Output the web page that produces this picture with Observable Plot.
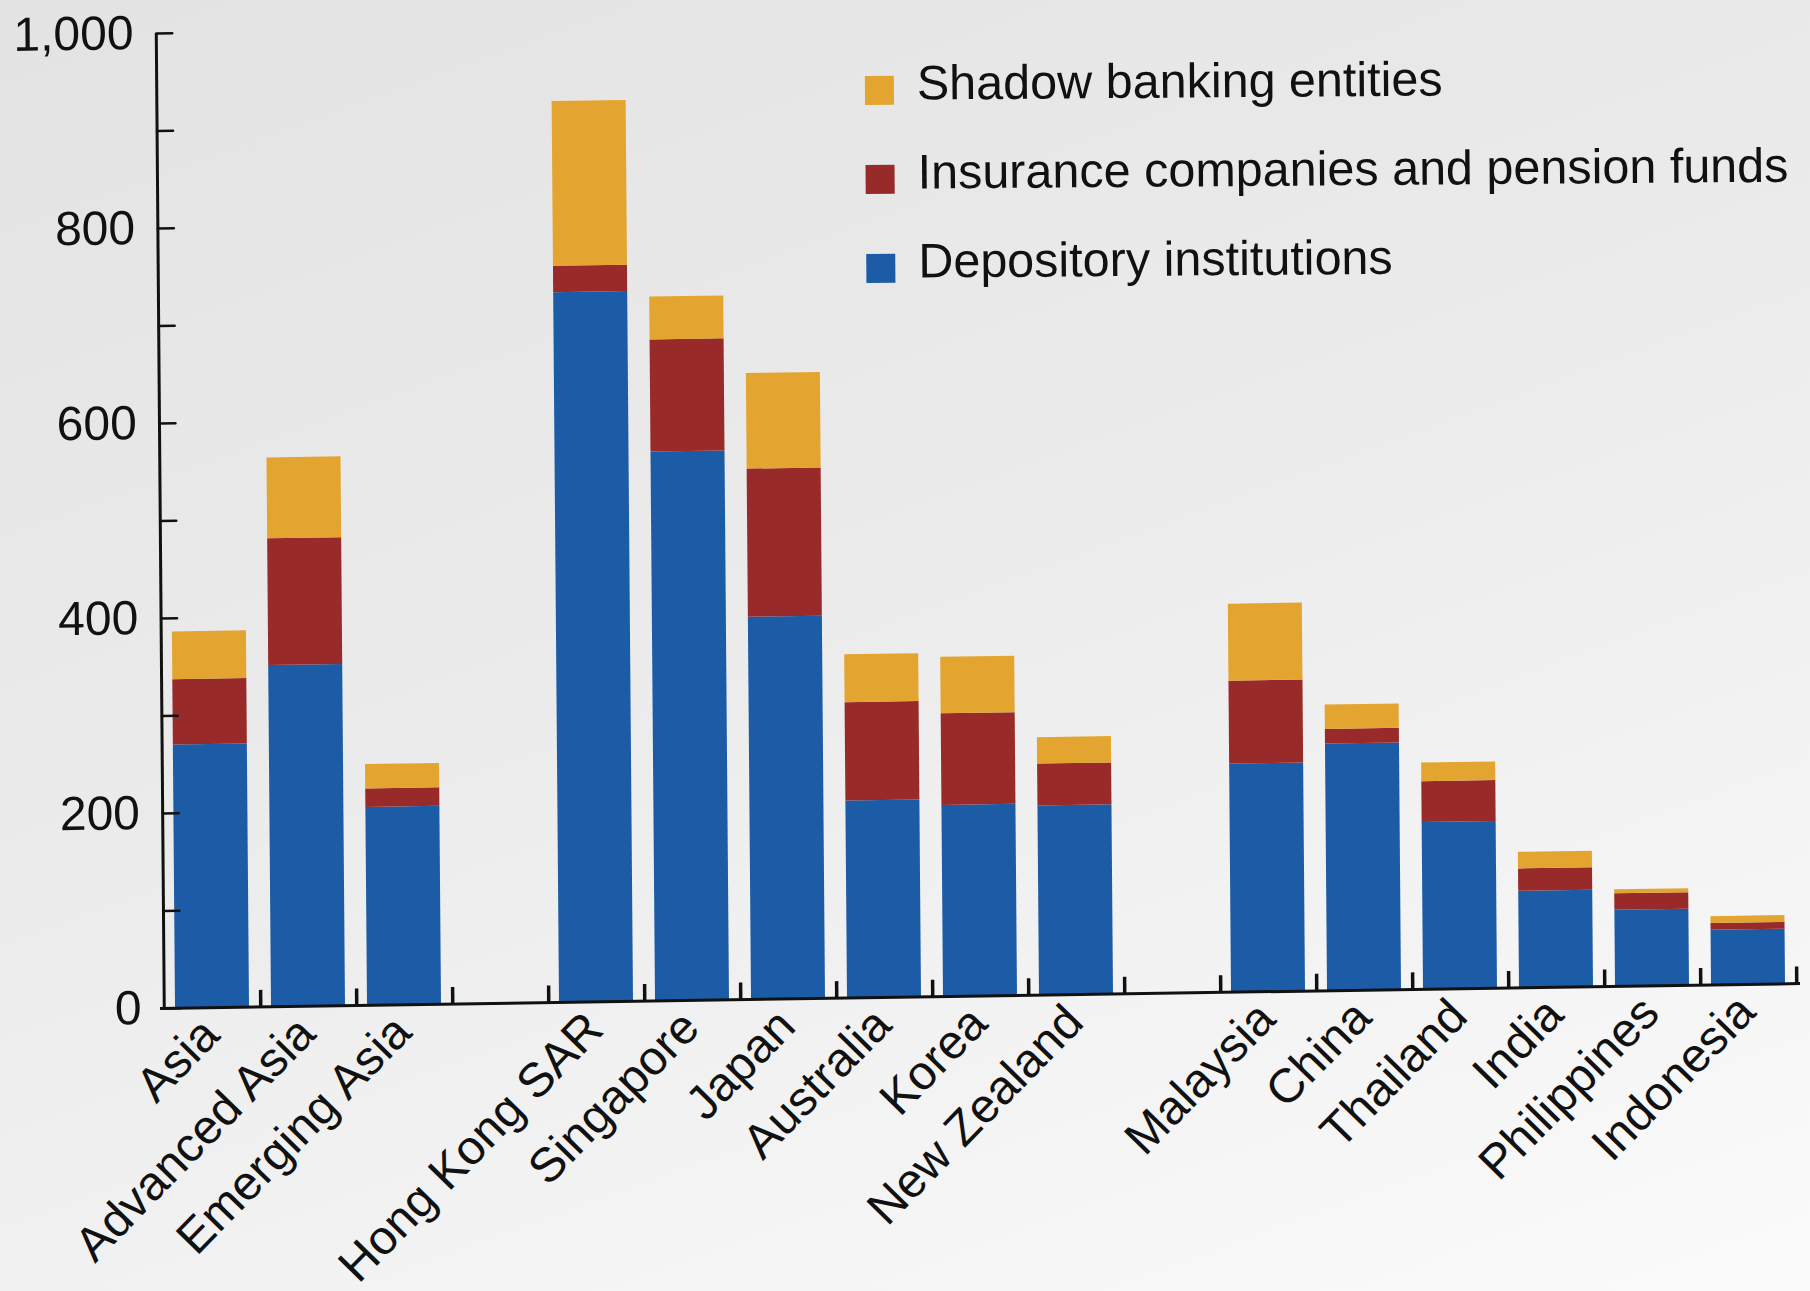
<!DOCTYPE html>
<html>
<head>
<meta charset="utf-8">
<script src="https://cdn.jsdelivr.net/npm/d3@7"></script>
<script src="https://cdn.jsdelivr.net/npm/@observablehq/plot@0.6"></script>
<style>
  html, body { margin: 0; padding: 0; }
  body {
    width: 1810px; height: 1291px; overflow: hidden;
    background: linear-gradient(160deg, #e3e3e3 0%, #ebebeb 45%, #f5f5f5 80%, #fbfbfb 100%);
    font-family: "Liberation Sans", Arial, sans-serif;
    position: relative;
  }
  /* the reference is a slightly skewed scan */
  #chart { position: absolute; left: 0; top: 0; transform-origin: 160px 1008px;
           transform: matrix(1, -0.0152, 0.0082, 1, 0, 0); }
  #legend { position: absolute; left: 0; top: 0; width: 1810px; height: 300px;
            transform-origin: 865px 100px; transform: rotate(-0.45deg); }
  .row { position: absolute; font-size: 48.5px; line-height: 48.5px; color: #111; white-space: nowrap; }
  .sw { position: absolute; width: 29px; height: 29px; }
</style>
</head>
<body>
<div id="chart"></div>
<div id="legend"></div>
<script>
// Categories in display order (blank slots separate the three groups)
const categories = ["Asia","Advanced Asia","Emerging Asia","Hong Kong SAR","Singapore","Japan","Australia","Korea","New Zealand","Malaysia","China","Thailand","India","Philippines","Indonesia"];
const slots = ["Asia","Advanced Asia","Emerging Asia","gap1","Hong Kong SAR","Singapore","Japan","Australia","Korea","New Zealand","gap2","Malaysia","China","Thailand","India","Philippines","Indonesia"];
const depository = [270,350,203,728,563,392,202,196,194,234,253,171,99,78,56];
const insurance  = [67,130,19,27,115,152,101,94,43,85,15,42,23,17,7];
const shadow     = [49,83,25,169,44,98,49,58,27,79,25,19,17,4,7];
const seriesNames = ["Depository institutions","Insurance companies and pension funds","Shadow banking entities"];
const seriesColors = ["#1c5ca7","#982a2a","#e3a530"];
const legendOrder = ["Shadow banking entities","Insurance companies and pension funds","Depository institutions"];
const yTicksLabeled = [0,200,400,600,800,1000];
const yTicksAll = [0,100,200,300,400,500,600,700,800,900,1000];

const seriesValues = [depository, insurance, shadow];
const rows = [];
seriesNames.forEach((s, si) => {
  categories.forEach((c, ci) => rows.push({category: c, series: s, value: seriesValues[si][ci]}));
});

const W = 1810, H = 1291;
const mLeft = 160, mRight = 10;
const step = (W - mLeft - mRight) / slots.length;

const tickShape = {draw(context, l) { context.moveTo(0, 0); context.lineTo(0, -l); }};

const chart = Plot.plot({
  width: W, height: H,
  marginLeft: mLeft, marginRight: mRight, marginTop: 33, marginBottom: 283,
  style: {background: "transparent", fontFamily: "Liberation Sans, Arial, sans-serif", color: "#111", overflow: "visible"},
  x: {domain: slots, paddingInner: 0.23, paddingOuter: 0.115, label: null, axis: null},
  y: {domain: [0, 1000], label: null, axis: null},
  color: {domain: seriesNames, range: seriesColors},
  marks: [
    Plot.barY(rows, Plot.stackY({order: seriesNames}, {x: "category", y: "value", fill: "series"})),
    // category boundary ticks (pointing up from the baseline)
    Plot.ruleX(slots, {x: d => d, dx: step / 2, y1: 0, y2: 17, stroke: "#111", strokeWidth: 3.5}),
    // baseline
    Plot.ruleY([0], {stroke: "#111", strokeWidth: 3}),
    // y axis line
    Plot.ruleX([slots[0]], {x: d => d, dx: -step / 2, y1: 0, y2: 1000, stroke: "#111", strokeWidth: 3}),
    // inward y ticks every 100
    Plot.vector(yTicksAll, {x: () => slots[0], y: d => d, dx: -step / 2, rotate: 90, length: 16, anchor: "start",
      shape: tickShape, stroke: "#111", strokeWidth: 2.5}),
    // y tick labels
    Plot.axisY({ticks: yTicksLabeled, tickSize: 0, tickPadding: 19, fontSize: 48, label: null,
      tickFormat: d3.format(",")}),
    // x labels, rotated
    Plot.text(categories, {x: d => d, text: d => d, frameAnchor: "bottom", rotate: -45, textAnchor: "end",
      lineAnchor: "middle", dx: -2, dy: 19, fontSize: 48, fill: "#111"})
  ]
});
document.getElementById("chart").appendChild(chart);

const legend = document.getElementById("legend");
const rowBaselines = [100, 189, 278];
legendOrder.forEach((name, i) => {
  const b = rowBaselines[i];
  const sw = document.createElement("div");
  sw.className = "sw";
  sw.style.left = "865px";
  sw.style.top = (b - 24) + "px";
  sw.style.background = seriesColors[seriesNames.indexOf(name)];
  const t = document.createElement("div");
  t.className = "row";
  t.style.left = "917px";
  t.style.top = (b - 41) + "px";
  t.textContent = name;
  legend.appendChild(sw); legend.appendChild(t);
});
</script>
</body>
</html>
